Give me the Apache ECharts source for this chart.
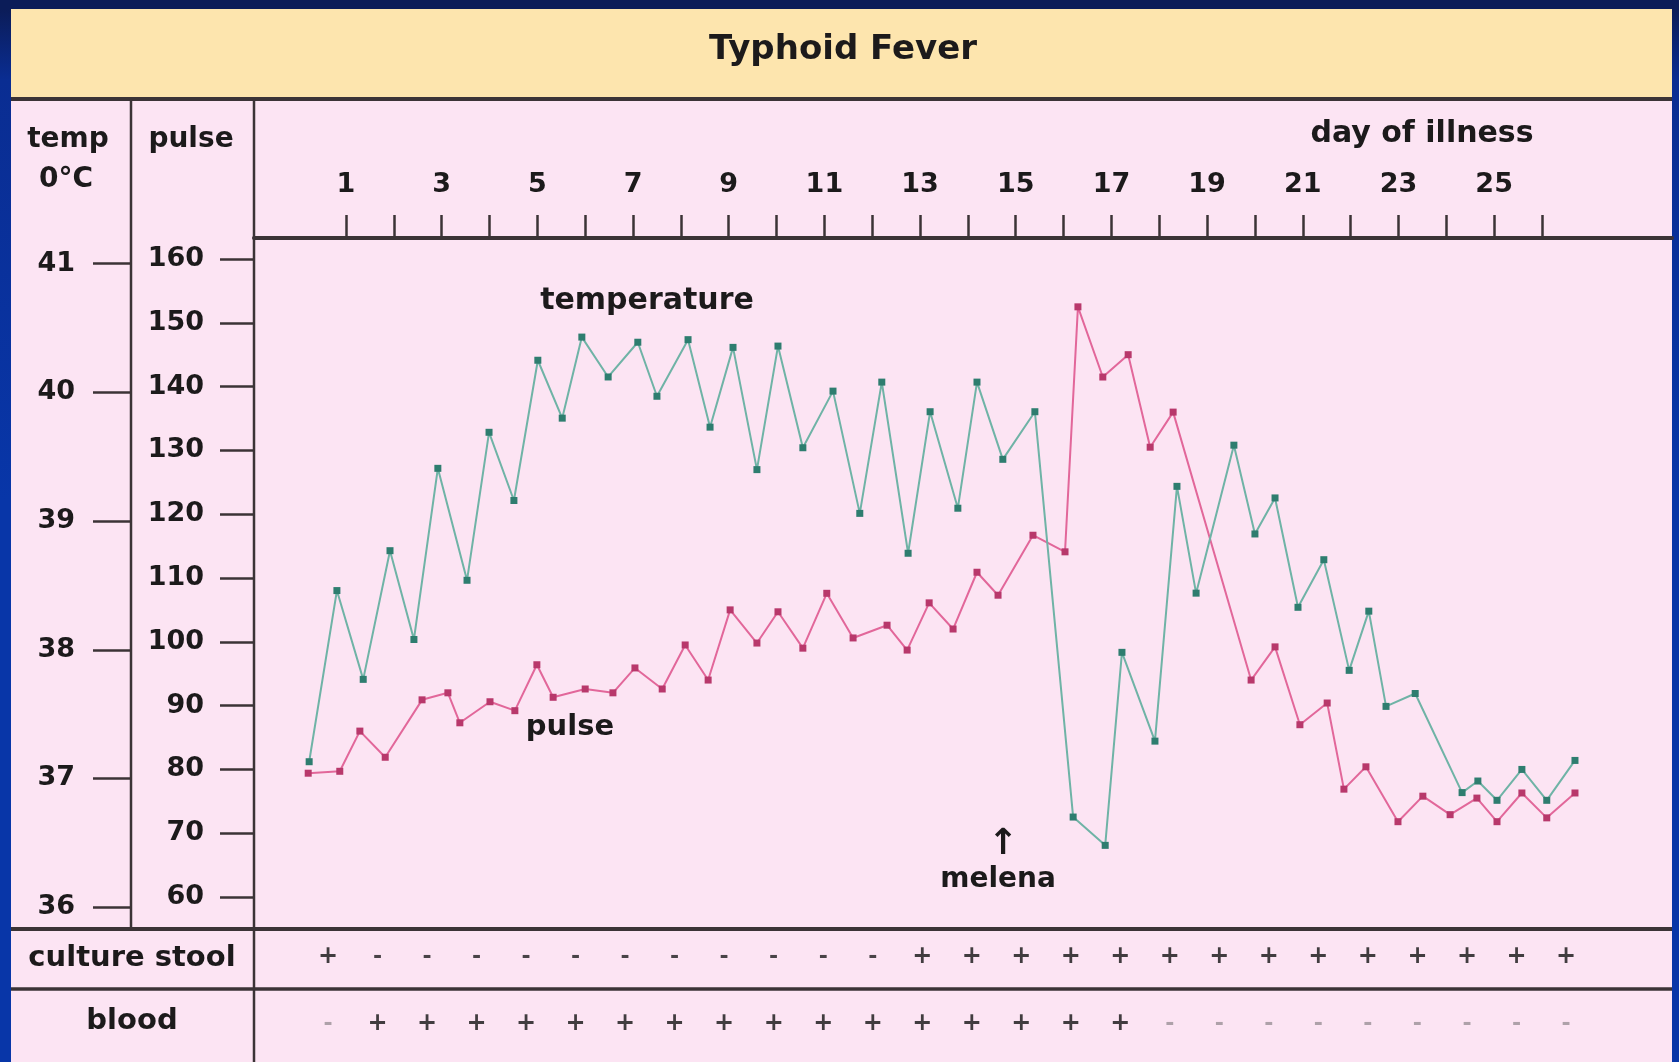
<!DOCTYPE html>
<html>
<head>
<meta charset="utf-8">
<title>Typhoid Fever</title>
<script src="https://cdn.jsdelivr.net/npm/echarts@6/dist/echarts.min.js"></script>
<style>
    html, body {
        margin: 0;
        padding: 0;
    }

    body {
        background: linear-gradient(180deg, #0b1c58 0px, #0b1c58 9px, #0a2d92 80px, #0836a8 500px);
    }

    #chart {
        width: 1679px;
        height: 1062px;
    }
</style>
</head>
<body>
<div id="chart"></div>
<script>
// day of illness (top axis)
const dayTicks = [1, 2, 3, 4, 5, 6, 7, 8, 9, 10, 11, 12, 13, 14, 15, 16, 17, 18, 19, 20, 21, 22, 23, 24, 25, 26]
const dayLabels = [1, 3, 5, 7, 9, 11, 13, 15, 17, 19, 21, 23, 25]
const pulseTicks = [60, 70, 80, 90, 100, 110, 120, 130, 140, 150, 160]
const tempTicks = [36, 37, 38, 39, 40, 41]

// temperature, twice a day (°C)
const tempDay = [0.23, 0.81, 1.36, 1.92, 2.42, 2.92, 3.53, 3.99, 4.51, 5.01,
    5.52, 5.93, 6.48, 7.10, 7.50, 8.15, 8.61, 9.09, 9.59, 10.03,
    10.55, 11.18, 11.74, 12.20, 12.75, 13.21, 13.79, 14.19, 14.73, 15.40,
    16.20, 16.87, 17.22, 17.91, 18.37, 18.77, 19.56, 20.00, 20.42, 20.90,
    21.44, 21.97, 22.38, 22.74, 23.35, 24.33, 24.66, 25.06, 25.58, 26.10, 26.69]
const tempVal = [37.13, 38.46, 37.77, 38.77, 38.08, 39.41, 38.54, 39.69, 39.16, 40.25,
    39.80, 40.43, 40.12, 40.39, 39.97, 40.41, 39.73, 40.35, 39.40, 40.36,
    39.57, 40.01, 39.06, 40.08, 38.75, 39.85, 39.10, 40.08, 39.48, 39.85,
    36.70, 36.48, 37.98, 37.29, 39.27, 38.44, 39.59, 38.90, 39.18, 38.33,
    38.70, 37.84, 38.30, 37.56, 37.66, 36.89, 36.98, 36.83, 37.07, 36.83, 37.14]

// pulse, twice a day (beats/min)
const pulseDay = [0.21, 0.87, 1.29, 1.82, 2.59, 3.13, 3.38, 4.01, 4.53, 4.99,
    5.33, 6.00, 6.58, 7.04, 7.61, 8.09, 8.57, 9.03, 9.59, 10.03,
    10.55, 11.05, 11.60, 12.31, 12.73, 13.19, 13.69, 14.19, 14.63, 15.36,
    16.03, 16.30, 16.82, 17.35, 17.81, 18.29, 19.92, 20.42, 20.94, 21.51,
    21.86, 22.32, 22.99, 23.51, 24.08, 24.64, 25.06, 25.58, 26.10, 26.69]
const pulseVal = [79.4, 79.7, 86.0, 81.9, 90.9, 92.0, 87.3, 90.6, 89.2, 96.4,
    91.3, 92.6, 92.0, 95.9, 92.6, 99.5, 94.0, 105.0, 99.8, 104.7,
    99.0, 107.6, 100.6, 102.6, 98.7, 106.1, 102.0, 110.9, 107.3, 116.7,
    114.1, 152.5, 141.5, 145.0, 130.5, 136.0, 94.0, 99.2, 87.0, 90.4,
    76.9, 80.4, 71.8, 75.8, 72.9, 75.5, 71.8, 76.3, 72.4, 76.3]

// cultures
const cultureSigns = ['+', '-', '-', '-', '-', '-', '-', '-', '-', '-', '-', '-', '+',
    '+', '+', '+', '+', '+', '+', '+', '+', '+', '+', '+', '+', '+']
const bloodSigns = ['-', '+', '+', '+', '+', '+', '+', '+', '+', '+', '+', '+', '+',
    '+', '+', '+', '+', '-', '-', '-', '-', '-', '-', '-', '-', '-']

const FONT = '"DejaVu Sans", sans-serif'
const INK = '#1c1a1b'
const RULE = '#3b3336'

function txt(text, x, y, size, weight) {
    return {
        type: 'text', x: x, y: y, z: 20,
        style: {
            text: text,
            font: (weight || 'bold') + ' ' + size + 'px ' + FONT,
            fill: INK,
            align: 'center', verticalAlign: 'middle',
            textAlign: 'center', textVerticalAlign: 'middle'
        }
    }
}

function rule(x1, y1, x2, y2, w) {
    return {
        type: 'line', z: 15,
        shape: {x1: x1, y1: y1, x2: x2, y2: y2},
        style: {stroke: RULE, lineWidth: w}
    }
}

const signRich = function (minusColor) {
    return {
        p: {fontFamily: FONT, fontWeight: 'bold', fontSize: 24, color: '#111'},
        m: {fontFamily: FONT, fontWeight: 'bold', fontSize: 22, color: minusColor}
    }
}
const signFormatter = p => p.value[2] === '+' ? '{p|+}' : '{m|-}'

const chart = echarts.init(document.getElementById('chart'), null, {renderer: 'canvas'})

const option = {
    animation: false,
    backgroundColor: 'transparent',
    grid: [
        {left: 254, right: 7, top: 238, bottom: 133, containLabel: false, outerBoundsMode: 'none'},
        {left: 328, right: 113, top: 957, bottom: 38, containLabel: false, outerBoundsMode: 'none'}
    ],
    xAxis: [
        {
            type: 'value', gridIndex: 0, position: 'top',
            min: -0.923, max: 28.718,
            splitLine: {show: false},
            axisLine: {show: true, onZero: false, lineStyle: {color: RULE, width: 4}},
            axisTick: {show: true, inside: false, length: 23, customValues: dayTicks, lineStyle: {color: RULE, width: 2.5}},
            axisLabel: {
                show: true, customValues: dayLabels, margin: 40,
                fontFamily: FONT, fontWeight: 'bold', fontSize: 27, color: INK
            }
        },
        {
            type: 'category', gridIndex: 1, show: false, boundaryGap: false,
            data: cultureSigns.map((s, i) => i)
        }
    ],
    yAxis: [
        {
            // pulse
            type: 'value', gridIndex: 0, position: 'left', offset: 0,
            min: 54.98, max: 163.29,
            splitLine: {show: false},
            axisLine: {show: false, onZero: false},
            axisTick: {show: true, inside: false, length: 34, customValues: pulseTicks, lineStyle: {color: RULE, width: 2.5}},
            axisLabel: {
                show: true, customValues: pulseTicks, margin: 50,
                fontFamily: FONT, fontWeight: 'bold', fontSize: 27, color: INK
            }
        },
        {
            // temp °C
            type: 'value', gridIndex: 0, position: 'left', offset: 123,
            min: 35.83, max: 41.20,
            splitLine: {show: false},
            axisLine: {show: false, onZero: false},
            axisTick: {show: true, inside: false, length: 38, customValues: tempTicks, lineStyle: {color: RULE, width: 2.5}},
            axisLabel: {
                show: true, customValues: tempTicks, margin: 56,
                fontFamily: FONT, fontWeight: 'bold', fontSize: 27, color: INK
            }
        },
        {
            type: 'category', gridIndex: 1, show: false, boundaryGap: false, inverse: true,
            data: ['culture', 'blood']
        }
    ],
    series: [
        {
            name: 'pulse', type: 'line', xAxisIndex: 0, yAxisIndex: 0, z: 3,
            data: pulseDay.map((d, i) => [d, pulseVal[i]]),
            symbol: 'rect', symbolSize: 7,
            lineStyle: {color: '#e2679a', width: 2},
            itemStyle: {color: '#b8386b'}
        },
        {
            name: 'temperature', type: 'line', xAxisIndex: 0, yAxisIndex: 1, z: 4,
            data: tempDay.map((d, i) => [d, tempVal[i]]),
            symbol: 'rect', symbolSize: 7,
            lineStyle: {color: '#6fb3a6', width: 2},
            itemStyle: {color: '#2e7d6f'}
        },
        {
            name: 'culture stool', type: 'scatter', xAxisIndex: 1, yAxisIndex: 2,
            symbolSize: 1, itemStyle: {color: 'transparent'},
            data: cultureSigns.map((s, i) => [i, 'culture', s]),
            label: {show: true, position: 'inside', formatter: signFormatter, rich: signRich(INK)}
        },
        {
            name: 'blood', type: 'scatter', xAxisIndex: 1, yAxisIndex: 2,
            symbolSize: 1, itemStyle: {color: 'transparent'},
            data: bloodSigns.map((s, i) => [i, 'blood', s]),
            label: {show: true, position: 'inside', formatter: signFormatter, rich: signRich('#9a9096')}
        }
    ],
    graphic: [
        // panels
        {type: 'rect', z: -10, shape: {x: 11, y: 9, width: 1661, height: 1053}, style: {fill: '#fce4f3'}},
        {type: 'rect', z: -9, shape: {x: 11, y: 9, width: 1661, height: 89}, style: {fill: '#fde5ae'}},
        // frame
        rule(11, 99, 1672, 99, 4),
        rule(131, 99, 131, 929, 2.5),
        rule(254, 99, 254, 1062, 2.5),
        rule(11, 929, 1672, 929, 4),
        rule(11, 989, 1672, 989, 3.5),
        // headings
        txt('Typhoid Fever', 843, 50, 34),
        txt('temp', 68, 140, 28),
        txt('0°C', 66, 180, 28),
        txt('pulse', 191, 140, 28),
        txt('day of illness', 1422, 134, 30),
        txt('culture stool', 132, 958, 29),
        txt('blood', 132, 1021, 29),
        // annotations
        txt('temperature', 647, 301, 30),
        txt('pulse', 570, 727, 29),
        txt('↑', 1003, 845, 36),
        txt('melena', 998, 880, 28)
    ]
}

chart.setOption(option)

window.addEventListener('resize', () => chart.resize())
</script>
</body>
</html>
